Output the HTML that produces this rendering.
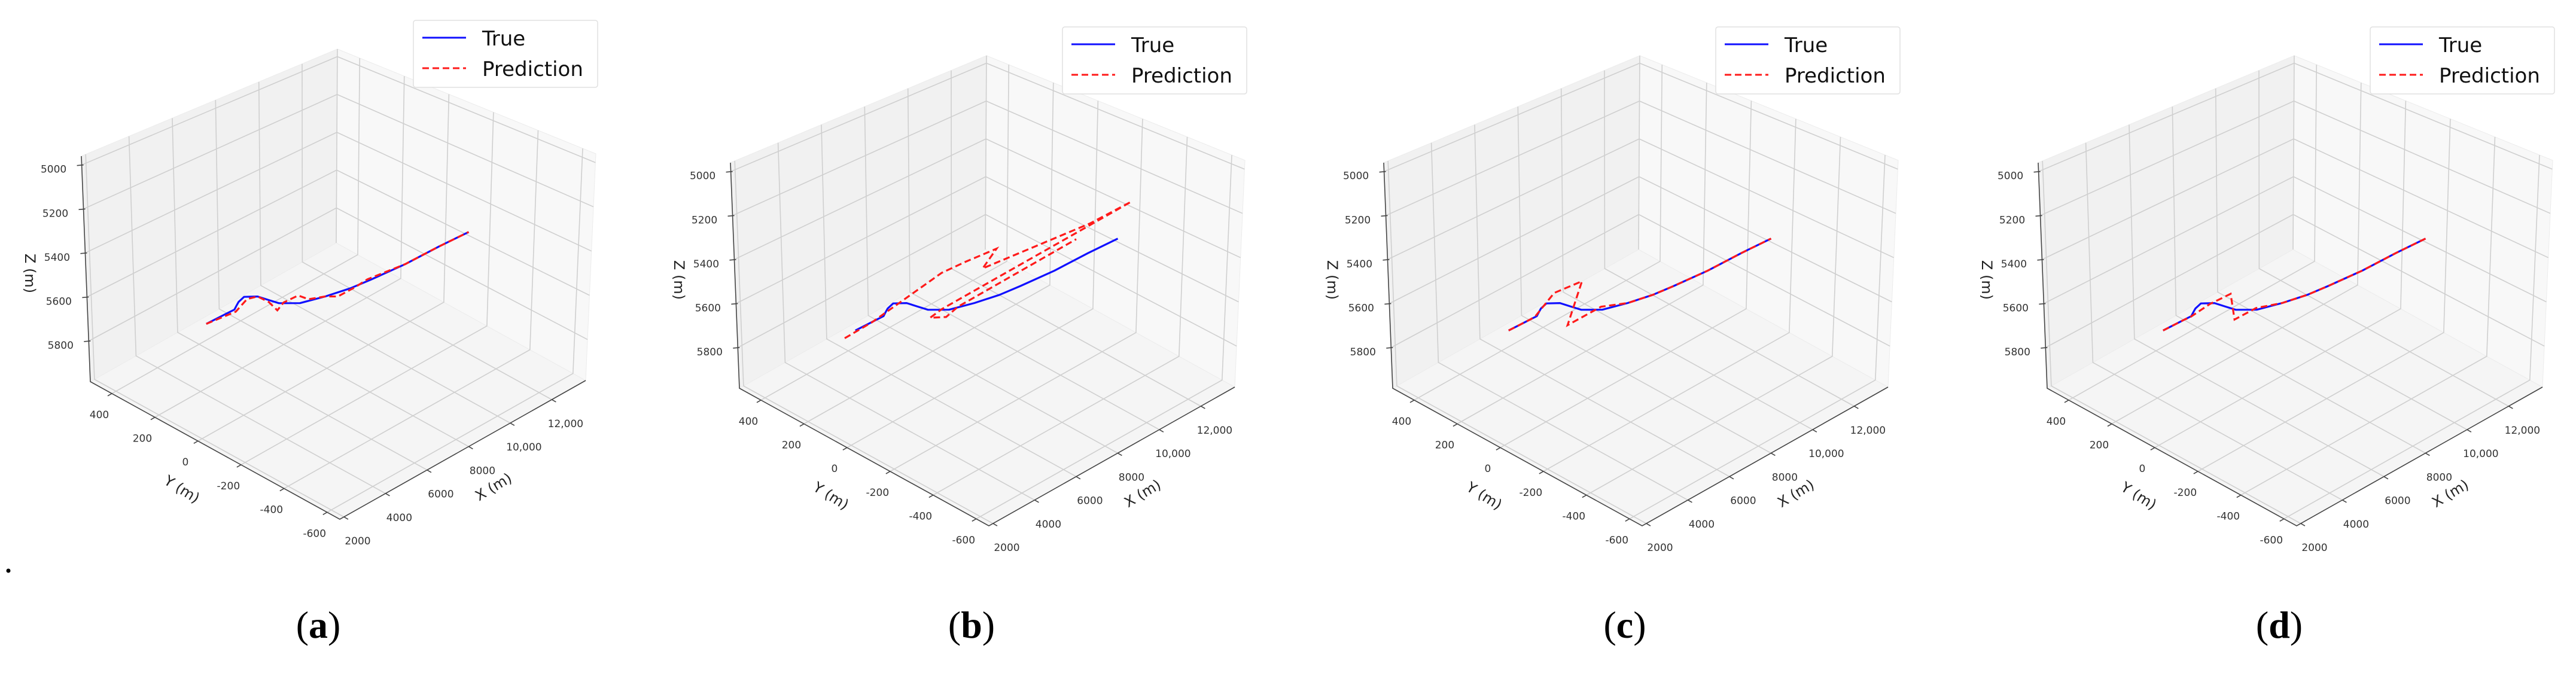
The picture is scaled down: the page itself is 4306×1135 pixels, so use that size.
<!DOCTYPE html>
<html><head><meta charset="utf-8"><style>
html,body{margin:0;padding:0;background:#fff;}
svg{display:block;}
text{font-family:"DejaVu Sans","Liberation Sans",sans-serif;}
</style></head><body>
<svg id="fig" width="4306" height="1135" viewBox="0 0 4306 1135" xmlns="http://www.w3.org/2000/svg">
<rect x="0" y="0" width="4306" height="1135" fill="#fff"/>
<circle cx="14" cy="954" r="3.5" fill="#000"/>
</svg>
<script>
// ---- data ----
const xTicks = [2000, 4000, 6000, 8000, 10000, 12000];
const xTickLabels = ["2000", "4000", "6000", "8000", "10,000", "12,000"];
const yTicks = [400, 200, 0, -200, -400, -600];
const yTickLabels = ["400", "200", "0", "-200", "-400", "-600"];
const zTicks = [5000, 5200, 5400, 5600, 5800];
const zTickLabels = ["5000", "5200", "5400", "5600", "5800"];
const panelLabels = ["(a)", "(b)", "(c)", "(d)"];

const trueX = [2509,3400,3645,3720,3813,4034,4577,5000,5423,6270,7287,8302,9148,10504,11858,13044];
const trueY = [20,5,1,-1,-2,-6,-15,-23,-30,-44,-62,-79,-93,-117,-140,-160];
const trueZ = [5525,5510,5506,5492,5479,5465,5484,5515,5546,5579,5589,5593,5587,5571,5544,5525];

const predAX = [2509,3695,4153,4577,5016,5353,5609,6202,6609,7287,7794,8472,8980,10504,11858,13044];
const predAY = [20,0,-8,-15,-23,-29,-33,-43,-50,-62,-70,-82,-91,-117,-140,-160];
const predAZ = [5525,5517,5479,5484,5525,5575,5550,5542,5575,5589,5610,5596,5579,5571,5544,5525];

const predBX = [2073,3188,5985,6934,8167,7621,11913,13549,5985,5511,6151,6626,11367];
const predBY = [27,8,-39,-56,-77,-67,-141,-169,-39,-31,-42,-50,-131];
const predBZ = [5542,5514,5403,5389,5377,5446,5406,5368,5565,5585,5607,5580,5459];

const predCX = [2509,3400,3591,4349,5464,4871,6222,7287,8302,9148,10504,11858,13044];
const predCY = [20,5,2,-11,-30,-20,-43,-62,-79,-93,-117,-140,-160];
const predCZ = [5525,5510,5504,5431,5421,5593,5564,5589,5593,5587,5571,5544,5525];

const predDX = [2509,3400,3543,4397,5227,5369,6246,7287,8302,9148,10504,11858,13044];
const predDY = [20,5,2,-12,-26,-29,-43,-62,-79,-93,-117,-140,-160];
const predDZ = [5525,5510,5510,5481,5468,5587,5571,5589,5593,5587,5571,5544,5525];

const predsX = [predAX, predBX, predCX, predDX];
const predsY = [predAY, predBY, predCY, predDY];
const predsZ = [predAZ, predBZ, predCZ, predDZ];

// ---- layout ----
const panelOffsets = [[0,0],[1085,11],[2177,11],[3271,11]];
const captionX = [532,1624,2716,3810];
const XMIN=1800, XMAX=13630, YMIN=-659, YMAX=500, ZBOT=5985, ZTOP=4960;
const NS = "http://www.w3.org/2000/svg";
const svg = document.getElementById('fig');

function mk(tag, attrs, parent){
  const e = document.createElementNS(NS, tag);
  for (const k in attrs) e.setAttribute(k, attrs[k]);
  parent.appendChild(e);
  return e;
}
function projUVW(u,v,w,ox,oy){
  const bx = 568 + u*411 - v*417, by = 868 - u*232 - v*230;
  const tx = 568 + u*428 - v*432, ty = 436 - u*179 - v*175;
  return [ox + bx + (tx-bx)*w, oy + by + (ty-by)*w];
}
const uOf = x => (x-XMIN)/(XMAX-XMIN);
const vOf = y => (y-YMIN)/(YMAX-YMIN);
const wOf = z => (ZBOT-z)/(ZBOT-ZTOP);
function proj(x,y,z,ox,oy){ return projUVW(uOf(x),vOf(y),wOf(z),ox,oy); }
function pts(arr){ return arr.map(p=>p[0].toFixed(1)+','+p[1].toFixed(1)).join(' '); }

panelOffsets.forEach((off, pi) => {
  const ox = off[0], oy = off[1];
  const g = mk('g', {}, svg);
  
  

  // panes
  const floor = mk('polygon', {points: pts([projUVW(0,0,0,ox,oy),projUVW(1,0,0,ox,oy),projUVW(1,1,0,ox,oy),projUVW(0,1,0,ox,oy)]), fill:'#f5f5f5', stroke:'#ececec'}, g);
  
  
  const lw = mk('polygon', {points: pts([projUVW(0,1,0,ox,oy),projUVW(1,1,0,ox,oy),projUVW(1,1,1,ox,oy),projUVW(0,1,1,ox,oy)]), fill:'#f1f1f1', stroke:'#ececec'}, g);
  
  
  const rw = mk('polygon', {points: pts([projUVW(1,0,0,ox,oy),projUVW(1,1,0,ox,oy),projUVW(1,1,1,ox,oy),projUVW(1,0,1,ox,oy)]), fill:'#f8f8f8', stroke:'#ececec'}, g);
  
  

  const grid = mk('g', {stroke:'#cfcfcf', 'stroke-width':1.6, fill:'none'}, g);
  
  
  xTicks.forEach(t => {
    const u = uOf(t);
    mk('polyline', {points: pts([projUVW(u,0,0,ox,oy),projUVW(u,1,0,ox,oy),projUVW(u,1,1,ox,oy)])}, grid);
  });
  yTicks.forEach(t => {
    const v = vOf(t);
    mk('polyline', {points: pts([projUVW(0,v,0,ox,oy),projUVW(1,v,0,ox,oy),projUVW(1,v,1,ox,oy)])}, grid);
  });
  zTicks.forEach(t => {
    const w = wOf(t);
    mk('polyline', {points: pts([projUVW(0,1,w,ox,oy),projUVW(1,1,w,ox,oy),projUVW(1,0,w,ox,oy)])}, grid);
  });
  // back vertical corner
  mk('polyline', {points: pts([projUVW(1,1,0,ox,oy),projUVW(1,1,1,ox,oy)])}, grid);

  // axes
  const axes = mk('g', {stroke:'#444', 'stroke-width':1.6, fill:'none'}, g);
  
  
  mk('polyline', {points: pts([projUVW(0,1,1,ox,oy),projUVW(0,1,0,ox,oy),projUVW(0,0,0,ox,oy),projUVW(1,0,0,ox,oy)])}, axes);

  const labels = mk('g', {fill:'#333', 'font-size':17, 'text-anchor':'middle'}, g);
  
  
  xTicks.forEach((t,i) => {
    const p = projUVW(uOf(t),0,0,ox,oy);
    mk('line', {x1:p[0], y1:p[1], x2:p[0]+7, y2:p[1]+4, stroke:'#444','stroke-width':1.6}, axes);
    const tx = mk('text', {x:p[0]+23, y:p[1]+46}, labels);
    
    
    tx.textContent = xTickLabels[i];
  });
  yTicks.forEach((t,i) => {
    const p = projUVW(0,vOf(t),0,ox,oy);
    mk('line', {x1:p[0], y1:p[1], x2:p[0]-7, y2:p[1]+4, stroke:'#444','stroke-width':1.6}, axes);
    const tx = mk('text', {x:p[0]-21, y:p[1]+41}, labels);
    
    
    tx.textContent = yTickLabels[i];
  });
  zTicks.forEach((t,i) => {
    const p = projUVW(0,1,wOf(t),ox,oy);
    mk('line', {x1:p[0]-8, y1:p[1]+1, x2:p[0]+3, y2:p[1], stroke:'#444','stroke-width':1.6}, axes);
    const tx = mk('text', {x:p[0]-47, y:p[1]+13}, labels);
    
    
    tx.textContent = zTickLabels[i];
  });

  const titles = mk('g', {fill:'#222', 'font-size':24, 'text-anchor':'middle', 'dominant-baseline':'central'}, g);
  const zt = mk('text', {transform:`translate(${ox+50},${oy+457}) rotate(90)`}, titles);
  
  
  zt.textContent = 'Z (m)';
  const yt = mk('text', {transform:`translate(${ox+304},${oy+818}) rotate(32)`}, titles);
  
  
  yt.textContent = 'Y (m)';
  const xt = mk('text', {transform:`translate(${ox+825},${oy+814}) rotate(-31)`}, titles);
  
  
  xt.textContent = 'X (m)';

  // series
  const tp = trueX.map((x,i)=>proj(x,trueY[i],trueZ[i],ox,oy));
  const tl = mk('polyline', {points: pts(tp), fill:'none', stroke:'#1010ff', 'stroke-width':3.2, 'stroke-linejoin':'round'}, g);
  
  
  const PX = predsX[pi], PY = predsY[pi], PZ = predsZ[pi];
  const pp = PX.map((x,i)=>proj(x,PY[i],PZ[i],ox,oy));
  const pl = mk('polyline', {points: pts(pp), fill:'none', stroke:'#ff1a1a', 'stroke-width':3.2, 'stroke-dasharray':'11 6'}, g);
  
  

  // legend
  const lg = mk('g', {}, g);
  
  
  mk('rect', {x:ox+691, y:oy+34, width:308, height:112, rx:4, fill:'#fff', stroke:'#e0e0e0', 'stroke-width':1.5}, lg);
  mk('line', {x1:ox+706, y1:oy+63, x2:ox+779, y2:oy+63, stroke:'#1010ff', 'stroke-width':3}, lg);
  mk('line', {x1:ox+706, y1:oy+114, x2:ox+779, y2:oy+114, stroke:'#ff1a1a', 'stroke-width':3, 'stroke-dasharray':'11 6'}, lg);
  const t1 = mk('text', {x:ox+806, y:oy+76, 'font-size':34, fill:'#111'}, lg);
  
  
  t1.textContent = 'True';
  const t2 = mk('text', {x:ox+806, y:oy+127, 'font-size':34, fill:'#111'}, lg);
  
  
  t2.textContent = 'Prediction';

  // caption
  const cap = mk('text', {x:captionX[pi], y:1066, 'font-size':64, 'text-anchor':'middle', fill:'#000'}, g);
  cap.setAttribute('style', 'font-family:"Liberation Serif",serif');
  
  
  cap.innerHTML = '(<tspan font-weight="bold">' + panelLabels[pi].slice(1,2) + '</tspan>)';
});
</script>
</body></html>
